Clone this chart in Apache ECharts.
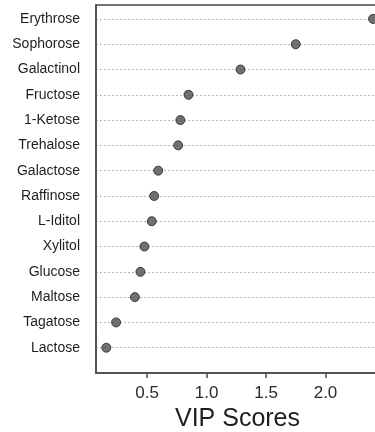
<!DOCTYPE html>
<html>
<head>
<meta charset="utf-8">
<script src="https://cdn.jsdelivr.net/npm/echarts@6/dist/echarts.min.js"></script>
<style>
  html, body { margin: 0; padding: 0; background: #fff; }
  #chart { width: 375px; height: 432px; }
</style>
</head>
<body>
<div id="chart"></div>
<script>
// Sugars ranked by VIP score (top of list = highest score)
const sugars = [
  'Erythrose', 'Sophorose', 'Galactinol', 'Fructose', '1-Ketose', 'Trehalose',
  'Galactose', 'Raffinose', 'L-Iditol', 'Xylitol', 'Glucose', 'Maltose',
  'Tagatose', 'Lactose'
];
const vipScores = [
  2.40, 1.75, 1.285, 0.848, 0.78, 0.761,
  0.593, 0.559, 0.539, 0.477, 0.444, 0.397,
  0.239, 0.157
];
const xTicks = [0.5, 1.0, 1.5, 2.0];

// Row position: the last sugar sits at 1, the first at the top
const rowOf = i => sugars.length - i;
const points = vipScores.map((v, i) => [v, rowOf(i)]);
const rowTicks = sugars.map((_, i) => rowOf(i));

const chart = echarts.init(document.getElementById('chart'), null, { renderer: 'canvas' });
const font = '"Liberation Sans", Arial, Helvetica, sans-serif';

chart.setOption({
  animation: false,
  backgroundColor: '#ffffff',
  grid: {
    left: 96, right: -4, top: 5, bottom: 59,
    outerBoundsMode: 'none',
    show: true, borderColor: '#4a4a4a', borderWidth: 1.5
  },
  xAxis: {
    type: 'value',
    min: 0.07, max: 2.45,
    name: 'VIP Scores',
    nameLocation: 'middle',
    nameGap: 34,
    nameTextStyle: { fontFamily: font, fontSize: 25, color: '#1e1e1e' },
    axisLine: { show: true, lineStyle: { color: '#4a4a4a', width: 1.5 } },
    axisTick: {
      show: true, customValues: xTicks, length: 5,
      lineStyle: { color: '#4a4a4a', width: 1.5 }
    },
    axisLabel: {
      customValues: xTicks,
      formatter: v => v.toFixed(1),
      fontFamily: font, fontSize: 17, color: '#2a2a2a', margin: 12
    },
    splitLine: { show: false }
  },
  yAxis: {
    type: 'value',
    min: 0, max: 14.55,
    interval: 1,
    axisLine: { show: true, lineStyle: { color: '#4a4a4a', width: 1.5 } },
    axisTick: { show: false, customValues: rowTicks },
    axisLabel: {
      customValues: rowTicks,
      formatter: v => sugars[sugars.length - v] || '',
      fontFamily: font, fontSize: 14, color: '#1e1e1e', margin: 16
    },
    splitLine: {
      show: true,
      lineStyle: { color: '#b8b8b8', type: [2, 2], width: 1 }
    }
  },
  series: [{
    type: 'scatter',
    data: points,
    symbol: 'circle',
    symbolSize: 9,
    clip: true,
    itemStyle: { color: '#4d4d4d', borderColor: '#1f1f1f', borderWidth: 1 }
  }]
});
</script>
</body>
</html>
